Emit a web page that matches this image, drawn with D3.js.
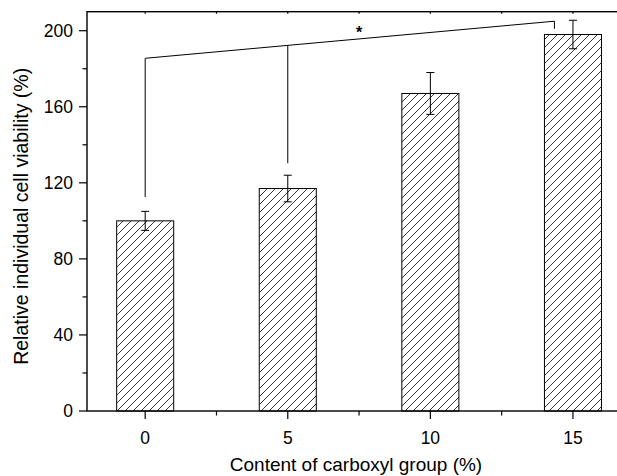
<!DOCTYPE html>
<html>
<head>
<meta charset="utf-8">
<script src="https://cdn.jsdelivr.net/npm/d3@7"></script>
<style>
  body { margin: 0; background: #fff; }
  svg { display: block; }
  text { font-family: "Liberation Sans", Arial, Helvetica, sans-serif; fill: #000; }
</style>
</head>
<body>
<div id="chart"></div>
<script>
// carboxyl content (%) and relative viability (%)
let categories = [0, 5, 10, 15];
let viability = [100, 117, 167, 198];
let errors = [5, 7, 11, 7.5];

let xTicks = [0, 5, 10, 15];
let yTicks = [0, 40, 80, 120, 160, 200];

// significance bracket: start on bar 0, branch on bar 5, end near bar 15
let bracketX = [0, 5, 14.35];
let bracketTop = [185.5, 192.3, 205];
let bracketBottom = [112.5, 130.3, 201];
let starLabel = "*";

let svgWidth = 617, svgHeight = 476;
let margin = {left: 87, top: 11.7, right: -13, bottom: 65};

let svg = d3.select("#chart")
  .append("svg")
  .attr("width", svgWidth)
  .attr("height", svgHeight);

let defs = svg.append("defs");
defs.append("pattern")
  .attr("id", "hatch")
  .attr("patternUnits", "userSpaceOnUse")
  .attr("width", 8)
  .attr("height", 8)
  .append("path")
    .attr("d", "M0,8 L8,0 M-2,2 L2,-2 M6,10 L10,6")
    .attr("stroke", "#222")
    .attr("stroke-width", 0.9);

let x = d3.scaleLinear().domain([-2.04, 17]).range([margin.left, svgWidth - margin.right]);
let y = d3.scaleLinear().domain([0, 210]).range([svgHeight - margin.bottom, margin.top]);

let g = svg.append("g");

// bars
g.selectAll("rect.bar")
  .data(categories)
  .enter().append("rect")
    .attr("class", "bar")
    .attr("x", function(d) { return x(d - 1); })
    .attr("width", function(d) { return x(d + 1) - x(d - 1); })
    .attr("y", function(d, i) { return y(viability[i]); })
    .attr("height", function(d, i) { return y(0) - y(viability[i]); })
    .attr("fill", "url(#hatch)")
    .attr("stroke", "#000")
    .attr("stroke-width", 1);

// error bars
let capW = 4;
categories.forEach(function(c, i) {
  let cx = x(c), hi = y(viability[i] + errors[i]), lo = y(viability[i] - errors[i]);
  g.append("line").attr("x1", cx).attr("x2", cx).attr("y1", hi).attr("y2", lo)
    .attr("stroke", "#000").attr("stroke-width", 1);
  [hi, lo].forEach(function(yy) {
    g.append("line").attr("x1", cx - capW).attr("x2", cx + capW).attr("y1", yy).attr("y2", yy)
      .attr("stroke", "#000").attr("stroke-width", 1);
  });
});

// significance bracket
let bracket = g.append("g").attr("stroke", "#000").attr("stroke-width", 1).attr("fill", "none");
bracket.append("line")
  .attr("x1", x(bracketX[0])).attr("y1", y(bracketTop[0]))
  .attr("x2", x(bracketX[2])).attr("y2", y(bracketTop[2]));
bracketX.forEach(function(bx, i) {
  bracket.append("line")
    .attr("x1", x(bx)).attr("x2", x(bx))
    .attr("y1", y(bracketTop[i])).attr("y2", y(bracketBottom[i]));
});
g.append("text")
  .attr("x", x(7.5))
  .attr("y", y(196))
  .attr("text-anchor", "middle")
  .attr("font-size", "16px")
  .attr("font-weight", "bold")
  .text(starLabel);

// frame
let x0 = margin.left, x1 = svgWidth - margin.right, yTop = margin.top, yBot = svgHeight - margin.bottom;
svg.append("rect")
  .attr("x", x0).attr("y", yTop)
  .attr("width", x1 - x0).attr("height", yBot - yTop)
  .attr("fill", "none").attr("stroke", "#000").attr("stroke-width", 1.4);

// y axis
let yMinor = d3.range(20, 210, 40);
let yAxis = svg.append("g").attr("class", "y-axis");
yAxis.selectAll("line.major").data(yTicks).enter().append("line")
  .attr("x1", x0 - 8).attr("x2", x0)
  .attr("y1", function(d) { return y(d); }).attr("y2", function(d) { return y(d); })
  .attr("stroke", "#000").attr("stroke-width", 1.2);
yAxis.selectAll("line.minor").data(yMinor).enter().append("line")
  .attr("x1", x0 - 4.5).attr("x2", x0)
  .attr("y1", function(d) { return y(d); }).attr("y2", function(d) { return y(d); })
  .attr("stroke", "#000").attr("stroke-width", 1.2);
yAxis.selectAll("text").data(yTicks).enter().append("text")
  .attr("x", x0 - 14)
  .attr("y", function(d) { return y(d); })
  .attr("dy", "0.36em")
  .attr("text-anchor", "end")
  .attr("font-size", "17.5px")
  .text(function(d) { return d; });

// x axis
let xMinor = [2.5, 7.5, 12.5];
let xAxis = svg.append("g").attr("class", "x-axis");
xAxis.selectAll("line.major").data(xTicks).enter().append("line")
  .attr("x1", function(d) { return x(d); }).attr("x2", function(d) { return x(d); })
  .attr("y1", yBot).attr("y2", yBot + 8)
  .attr("stroke", "#000").attr("stroke-width", 1.2);
xAxis.selectAll("line.minor").data(xMinor).enter().append("line")
  .attr("x1", function(d) { return x(d); }).attr("x2", function(d) { return x(d); })
  .attr("y1", yBot).attr("y2", yBot + 4.5)
  .attr("stroke", "#000").attr("stroke-width", 1.2);
xAxis.selectAll("text").data(xTicks).enter().append("text")
  .attr("x", function(d) { return x(d); })
  .attr("y", yBot + 27)
  .attr("dy", "0.36em")
  .attr("text-anchor", "middle")
  .attr("font-size", "17.5px")
  .text(function(d) { return d; });

// top axis ticks (inward)
let topTicks = xTicks.concat(xMinor);
svg.append("g").selectAll("line").data(topTicks).enter().append("line")
  .attr("x1", function(d) { return x(d); }).attr("x2", function(d) { return x(d); })
  .attr("y1", yTop).attr("y2", yTop + 2)
  .attr("stroke", "#000").attr("stroke-width", 1.2);

// axis titles
svg.append("text")
  .attr("x", 356)
  .attr("y", 471)
  .attr("text-anchor", "middle")
  .attr("font-size", "19px")
  .text("Content of carboxyl group (%)");

svg.append("text")
  .attr("transform", "translate(27.5," + ((yTop + yBot) / 2 + 5) + ") rotate(-90)")
  .attr("text-anchor", "middle")
  .attr("font-size", "19.5px")
  .text("Relative individual cell viability (%)");
</script>
</body>
</html>
